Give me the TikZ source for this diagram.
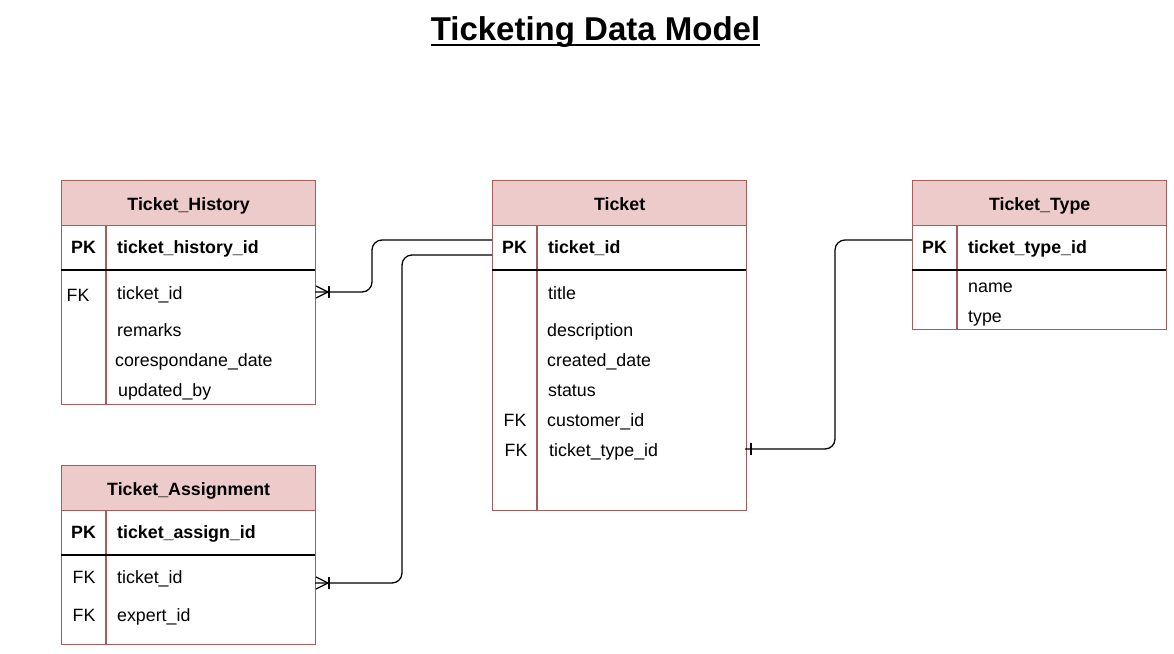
\documentclass[tikz,border=0pt]{standalone}
\usepackage{fontspec}
\setmainfont{Liberation Sans}
\definecolor{bord}{HTML}{A65C5A}
\definecolor{hdrfill}{HTML}{EECBCB}
\newcommand\fsz{\fontsize{17.8}{21}\selectfont}
\tikzset{
  tbox/.style={draw=bord, line width=1.3pt, anchor=north west, minimum width=254pt, inner sep=0pt},
  thead/.style={tbox, fill=hdrfill, minimum height=45pt, font=\fsz\bfseries, text height=16pt, text depth=2pt},
  fld/.style={anchor=west, font=\fsz, inner sep=0pt, text height=12.5pt, text depth=3.5pt},
  keyc/.style={anchor=center, font=\fsz, inner sep=0pt, text height=12.5pt, text depth=3.5pt},
  pkkey/.style={keyc, font=\fsz\bfseries},
  pkfld/.style={fld, font=\fsz\bfseries},
  sepline/.style={line width=1.4pt, black},
  divline/.style={draw=bord, line width=1.3pt},
  rel/.style={line width=1.3pt, rounded corners=10pt},
  ermark/.style={line width=1.3pt}
}
\begin{document}
\begin{tikzpicture}[x=1pt, y=-1pt]
\fill[white] (0,0) rectangle (1174,653);
\useasboundingbox (0,0) rectangle (1174,653);

% Title
\node[font=\fontsize{33}{38}\selectfont\bfseries, anchor=base, inner sep=0pt] (title) at (595.5,40) {Ticketing Data Model};
\draw[line width=2.4pt] ([yshift=-5pt]title.base west) -- ([yshift=-5pt]title.base east);

% ---------- Ticket_History ----------
\node[tbox, minimum height=224pt] (thbox) at (61,180) {};
\node[thead] (thhead) at (61,180) {Ticket\_History};
\draw[divline] (106,225) -- (106,404);
\draw[sepline] (61,270) -- (315,270);
\node[pkkey] (thpk) at (83.5,249) {PK};
\node[pkfld] (thpkf) at (117,249) {ticket\_history\_id};
\node[keyc] (thfk) at (78,297) {FK};
\node[fld] (thf1) at (117,295) {ticket\_id};
\node[fld] (thf2) at (117,332) {remarks};
\node[fld] (thf3) at (115,362) {corespondane\_date};
\node[fld] (thf4) at (118,392) {updated\_by};

% ---------- Ticket_Assignment ----------
\node[tbox, minimum height=179pt] (tabox) at (61,465) {};
\node[thead] (tahead) at (61,465) {Ticket\_Assignment};
\draw[divline] (106,510) -- (106,644);
\draw[sepline] (61,555) -- (315,555);
\node[pkkey] (tapk) at (83.5,534) {PK};
\node[pkfld] (tapkf) at (117,534) {ticket\_assign\_id};
\node[keyc] (tafk1) at (84,579) {FK};
\node[fld] (taf1) at (117,579) {ticket\_id};
\node[keyc] (tafk2) at (84,617) {FK};
\node[fld] (taf2) at (117,617) {expert\_id};

% ---------- Ticket ----------
\node[tbox, minimum height=330pt] (tkbox) at (492,180) {};
\node[thead] (tkhead) at (492,180) {Ticket};
\draw[divline] (537,225) -- (537,510);
\draw[sepline] (492,270) -- (746,270);
\node[pkkey] (tkpk) at (514.5,249) {PK};
\node[pkfld] (tkpkf) at (548,249) {ticket\_id};
\node[fld] (tkf1) at (548,295) {title};
\node[fld] (tkf2) at (547,332) {description};
\node[fld] (tkf3) at (547,362) {created\_date};
\node[fld] (tkf4) at (548,392) {status};
\node[keyc] (tkfk1) at (515,422) {FK};
\node[fld] (tkf5) at (547,422) {customer\_id};
\node[keyc] (tkfk2) at (516,452) {FK};
\node[fld] (tkf6) at (549,452) {ticket\_type\_id};

% ---------- Ticket_Type ----------
\node[tbox, minimum height=149pt] (ttbox) at (912,180) {};
\node[thead] (tthead) at (912,180) {Ticket\_Type};
\draw[divline] (957,225) -- (957,329);
\draw[sepline] (912,270) -- (1166,270);
\node[pkkey] (ttpk) at (934.5,249) {PK};
\node[pkfld] (ttpkf) at (968,249) {ticket\_type\_id};
\node[fld] (ttf1) at (968,288) {name};
\node[fld] (ttf2) at (968,318) {type};

% ---------- Connectors ----------
\coordinate (r1s) at (492,240);
\coordinate (r1e) at (315,292);
\draw[rel] (r1s) -- (372,240) -- (372,292) -- (r1e);
\draw[ermark] (r1e) ++(13,0) -- ++(-12,-6);
\draw[ermark] (r1e) ++(13,0) -- ++(-12,6);
\draw[ermark] (r1e) ++(14,-6) -- ++(0,12);

\coordinate (r2s) at (492,255);
\coordinate (r2e) at (315,583);
\draw[rel] (r2s) -- (402,255) -- (402,583) -- (r2e);
\draw[ermark] (r2e) ++(13,0) -- ++(-12,-6);
\draw[ermark] (r2e) ++(13,0) -- ++(-12,6);
\draw[ermark] (r2e) ++(14,-6) -- ++(0,12);

\coordinate (r3s) at (745,449);
\coordinate (r3e) at (912,240);
\draw[rel] (r3s) -- (835,449) -- (835,240) -- (r3e);
\draw[ermark] (r3s) ++(6,-6) -- ++(0,12);
\end{tikzpicture}
\end{document}
